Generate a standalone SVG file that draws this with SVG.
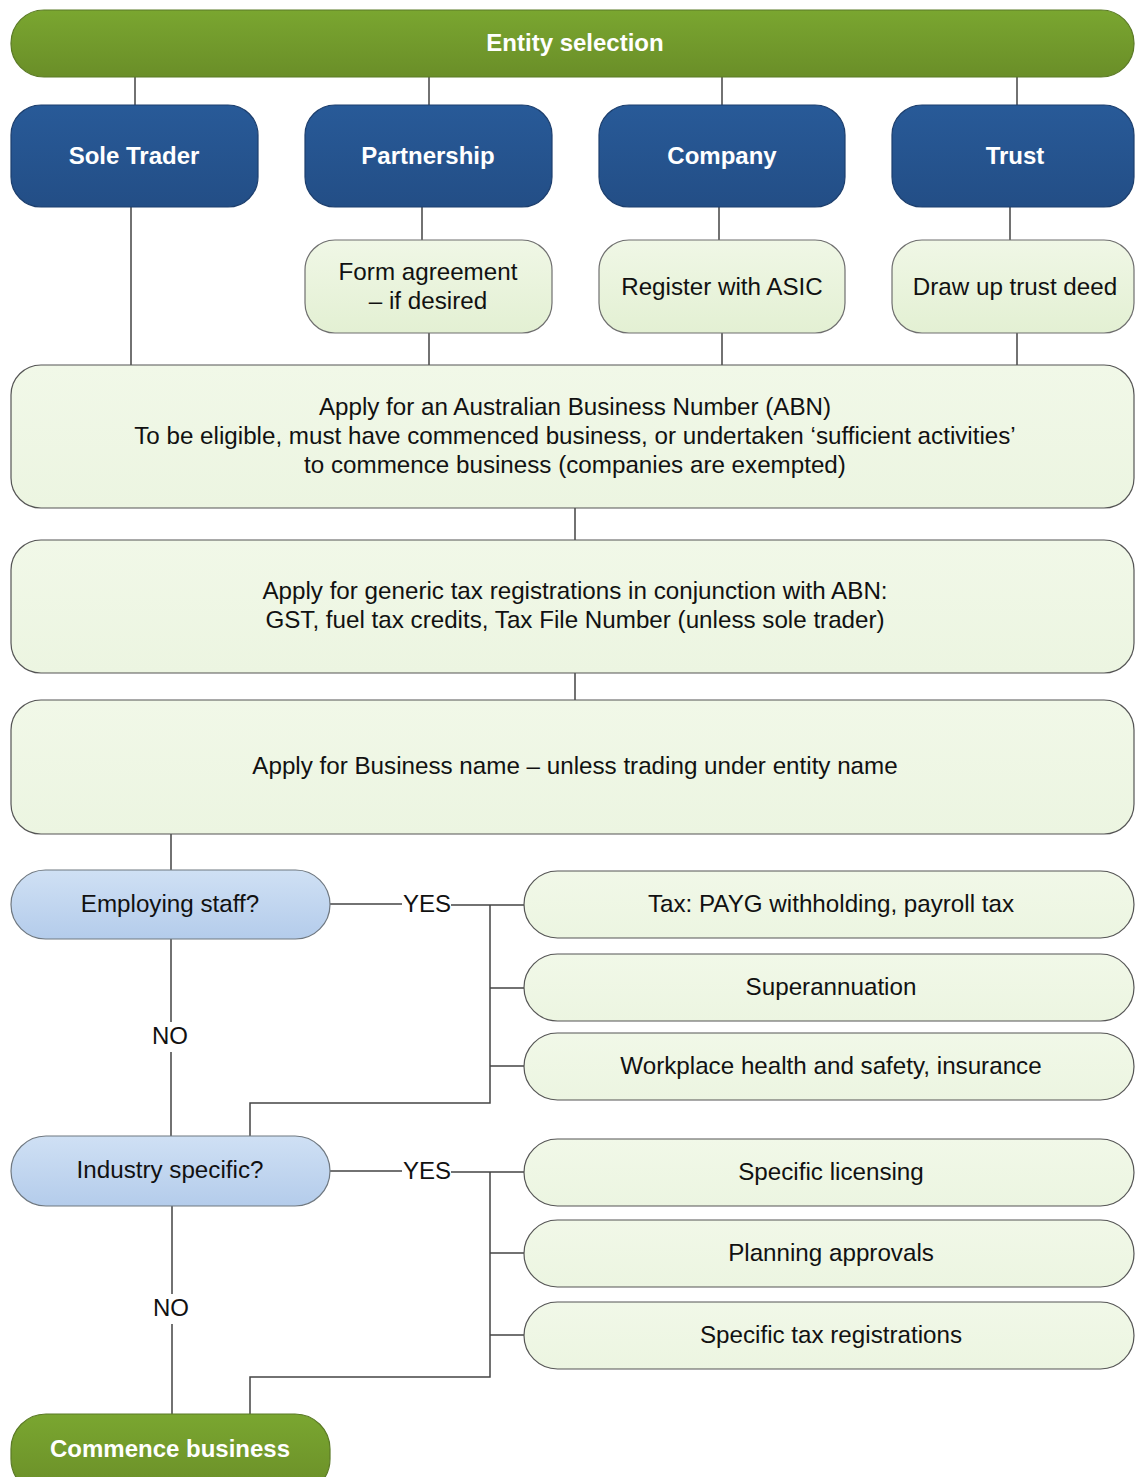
<svg xmlns="http://www.w3.org/2000/svg" width="1136" height="1477" viewBox="0 0 1136 1477">
<defs>
<linearGradient id="gGreen" x1="0" y1="0" x2="0" y2="1"><stop offset="0" stop-color="#7aa630"/><stop offset="1" stop-color="#6a8e28"/></linearGradient>
<linearGradient id="gBlue" x1="0" y1="0" x2="0" y2="1"><stop offset="0" stop-color="#285a98"/><stop offset="1" stop-color="#234e86"/></linearGradient>
<linearGradient id="gLight" x1="0" y1="0" x2="0" y2="1"><stop offset="0" stop-color="#f0f7e6"/><stop offset="1" stop-color="#e3f0d3"/></linearGradient>
<linearGradient id="gPale" x1="0" y1="0" x2="0" y2="1"><stop offset="0" stop-color="#f1f8e8"/><stop offset="1" stop-color="#ecf5e1"/></linearGradient>
<linearGradient id="gQ" x1="0" y1="0" x2="0" y2="1"><stop offset="0" stop-color="#cfe0f4"/><stop offset="1" stop-color="#b4cceb"/></linearGradient>
</defs>
<style>
.green{fill:url(#gGreen);stroke:#5b7a26;stroke-width:1.2}
.blue{fill:url(#gBlue);stroke:#1d3f6e;stroke-width:1.2}
.light{fill:url(#gLight);stroke:#6f6f6f;stroke-width:1.2}
.pale{fill:url(#gPale);stroke:#555;stroke-width:1.2}
.q{fill:url(#gQ);stroke:#6f7880;stroke-width:1.2}
.wt{font-family:"Liberation Sans",Arial,sans-serif;font-weight:bold;font-size:24px;fill:#fff;text-anchor:middle}
.bt{font-family:"Liberation Sans",Arial,sans-serif;font-size:24.2px;fill:#111;text-anchor:middle}
.lbl{font-family:"Liberation Sans",Arial,sans-serif;font-size:24px;fill:#111;text-anchor:middle}
.c{fill:none;stroke:#444;stroke-width:1.5}
</style>
<g id="connectors">
<path class="c" d="M135 77V105M429 77V105M722 77V105M1017 77V105"/>
<path class="c" d="M131 207V365M422 207V240M429 333V365M719 207V240M722 333V365M1010 207V240M1017 333V365"/>
<path class="c" d="M575 508V540M575 673V700M171 834V870"/>
<path class="c" d="M330 904H402M451 905H524M490 905V1103H250V1136M490 988H524M490 1066H524"/>
<path class="c" d="M171 939V1022M171 1052V1136"/>
<path class="c" d="M330 1171H402M451 1172H524M490 1172V1377H250V1414M490 1253H524M490 1335H524"/>
<path class="c" d="M172 1206V1294M172 1324V1414"/>
</g>
<g id="entity-selection"><rect class="green" x="11" y="10" width="1123" height="67" rx="33"/><text class="wt" x="575" y="51">Entity selection</text></g>
<g id="sole-trader"><rect class="blue" x="11" y="105" width="247" height="102" rx="30"/><text class="wt" x="134" y="164">Sole Trader</text></g>
<g id="partnership"><rect class="blue" x="305" y="105" width="247" height="102" rx="30"/><text class="wt" x="428" y="164">Partnership</text></g>
<g id="company"><rect class="blue" x="599" y="105" width="246" height="102" rx="30"/><text class="wt" x="722" y="164">Company</text></g>
<g id="trust"><rect class="blue" x="892" y="105" width="242" height="102" rx="30"/><text class="wt" x="1015" y="164">Trust</text></g>
<g id="form-agreement"><rect class="light" x="305" y="240" width="247" height="93" rx="30"/><text class="bt" x="428" y="280">Form agreement</text><text class="bt" x="428" y="309">– if desired</text></g>
<g id="register-asic"><rect class="light" x="599" y="240" width="246" height="93" rx="30"/><text class="bt" x="722" y="295">Register with ASIC</text></g>
<g id="trust-deed"><rect class="light" x="892" y="240" width="242" height="93" rx="30"/><text class="bt" x="1015" y="295">Draw up trust deed</text></g>
<g id="abn"><rect class="pale" x="11" y="365" width="1123" height="143" rx="30"/><text class="bt" x="575" y="415">Apply for an Australian Business Number (ABN)</text><text class="bt" x="575" y="444">To be eligible, must have commenced business, or undertaken ‘sufficient activities’</text><text class="bt" x="575" y="473">to commence business (companies are exempted)</text></g>
<g id="tax-reg"><rect class="pale" x="11" y="540" width="1123" height="133" rx="30"/><text class="bt" x="575" y="599">Apply for generic tax registrations in conjunction with ABN:</text><text class="bt" x="575" y="628">GST, fuel tax credits, Tax File Number (unless sole trader)</text></g>
<g id="business-name"><rect class="pale" x="11" y="700" width="1123" height="134" rx="30"/><text class="bt" x="575" y="774">Apply for Business name – unless trading under entity name</text></g>
<g id="employing-staff"><rect class="q" x="11" y="870" width="319" height="69" rx="34.5"/><text class="bt" x="170" y="912">Employing staff?</text></g>
<g id="payg"><rect class="pale" x="524" y="871" width="610" height="67" rx="33.5"/><text class="bt" x="831" y="912">Tax: PAYG withholding, payroll tax</text></g>
<g id="super"><rect class="pale" x="524" y="954" width="610" height="67" rx="33.5"/><text class="bt" x="831" y="995">Superannuation</text></g>
<g id="whs"><rect class="pale" x="524" y="1033" width="610" height="67" rx="33.5"/><text class="bt" x="831" y="1074">Workplace health and safety, insurance</text></g>
<g id="industry-specific"><rect class="q" x="11" y="1136" width="319" height="70" rx="35"/><text class="bt" x="170" y="1178">Industry specific?</text></g>
<g id="licensing"><rect class="pale" x="524" y="1139" width="610" height="67" rx="33.5"/><text class="bt" x="831" y="1180">Specific licensing</text></g>
<g id="planning"><rect class="pale" x="524" y="1220" width="610" height="67" rx="33.5"/><text class="bt" x="831" y="1261">Planning approvals</text></g>
<g id="specific-tax"><rect class="pale" x="524" y="1302" width="610" height="67" rx="33.5"/><text class="bt" x="831" y="1343">Specific tax registrations</text></g>
<g id="commence"><rect class="green" x="11" y="1414" width="319" height="80" rx="35"/><text class="wt" x="170" y="1457">Commence business</text></g>
<g id="labels">
<text class="lbl" x="427" y="912">YES</text>
<text class="lbl" x="170" y="1044">NO</text>
<text class="lbl" x="427" y="1179">YES</text>
<text class="lbl" x="171" y="1316">NO</text>
</g>
</svg>
